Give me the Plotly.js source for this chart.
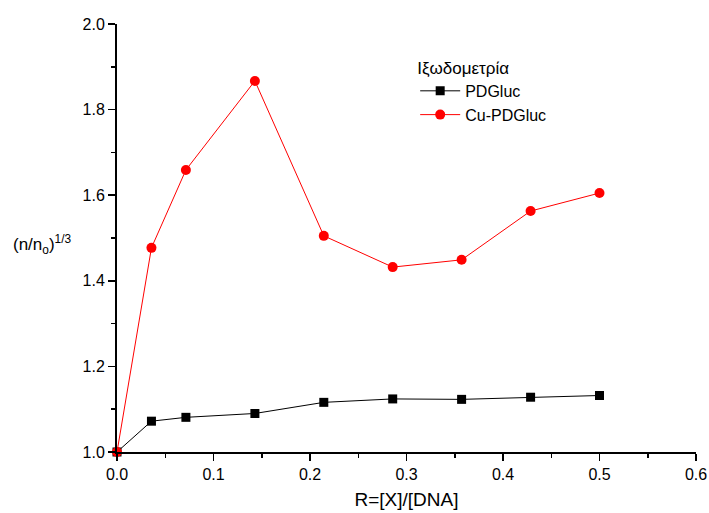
<!DOCTYPE html>
<html>
<head>
<meta charset="utf-8">
<script src="https://cdn.plot.ly/plotly-3.0.1.min.js"></script>
<style>
  html, body { margin: 0; padding: 0; background: #fff; }
  #chart { width: 709px; height: 513px; }
</style>
</head>
<body>
<div id="chart"></div>
<script>
// R = [X]/[DNA] ratios
const ratio = [0, 0.0357, 0.0714, 0.1429, 0.2143, 0.2857, 0.3571, 0.4286, 0.5];
// relative viscosity (n/no)^(1/3)
const pdgluc = [1.0, 1.072, 1.081, 1.090, 1.116, 1.124, 1.123, 1.128, 1.132];
const cuPdgluc = [1.0, 1.477, 1.659, 1.867, 1.505, 1.432, 1.449, 1.563, 1.605];

const font = 'Arial, "Liberation Sans", sans-serif';

const traces = [
  {
    x: ratio, y: pdgluc, name: 'PDGluc', type: 'scatter', mode: 'lines+markers',
    line: { color: '#000000', width: 1 },
    marker: { symbol: 'square', size: 9, color: '#000000' },
    cliponaxis: false
  },
  {
    x: ratio, y: cuPdgluc, name: 'Cu-PDGluc', type: 'scatter', mode: 'lines+markers',
    line: { color: '#ff0000', width: 1 },
    marker: { symbol: 'circle', size: 10, color: '#ff0000' },
    cliponaxis: false
  }
];

const layout = {
  width: 709, height: 513,
  margin: { l: 117, r: 13, t: 24, b: 61 },
  paper_bgcolor: '#ffffff', plot_bgcolor: '#ffffff',
  font: { family: font, size: 16, color: '#000' },
  showlegend: true,
  legend: {
    x: 0.515, y: 0.935, xanchor: 'left', yanchor: 'top',
    bgcolor: 'rgba(0,0,0,0)', borderwidth: 0,
    font: { family: font, size: 16, color: '#000' },
    title: { text: 'Ιξωδομετρία', font: { family: font, size: 17, color: '#000' } },
    tracegroupgap: 0, itemwidth: 40
  },
  xaxis: {
    range: [0, 0.6], dtick: 0.1, tickformat: '.1f',
    showgrid: false, zeroline: false,
    showline: true, linecolor: '#000', linewidth: 2,
    ticks: 'outside', ticklen: 7, tickwidth: 1.5, tickcolor: '#000',
    minor: { ticks: 'outside', ticklen: 4, dtick: 0.05, tickwidth: 1.5, tickcolor: '#000', showgrid: false },
    tickfont: { family: font, size: 16 },
    title: { text: 'R=[X]/[DNA]', font: { family: font, size: 19 }, standoff: 10 }
  },
  yaxis: {
    range: [1.0, 2.0], dtick: 0.2, tickformat: '.1f',
    showgrid: false, zeroline: false,
    showline: true, linecolor: '#000', linewidth: 2,
    ticks: 'outside', ticklen: 7, tickwidth: 1.5, tickcolor: '#000',
    minor: { ticks: 'outside', ticklen: 4, dtick: 0.1, tickwidth: 1.5, tickcolor: '#000', showgrid: false },
    tickfont: { family: font, size: 16 }
  },
  annotations: [
    {
      text: '(n/n<sub>o</sub>)<sup>1/3</sup>',
      xref: 'paper', yref: 'paper', x: -0.128, y: 0.485,
      xanchor: 'center', yanchor: 'middle', showarrow: false,
      font: { family: font, size: 17, color: '#000' }
    }
  ]
};

Plotly.newPlot('chart', traces, layout, { displayModeBar: false, staticPlot: true });
</script>
</body>
</html>
